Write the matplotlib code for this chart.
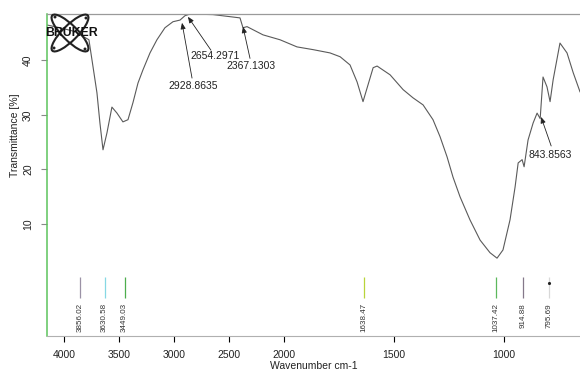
import numpy as np
import matplotlib
matplotlib.use('Agg')
import matplotlib.pyplot as plt
from matplotlib.patches import Ellipse
from matplotlib.transforms import IdentityTransform

plt.rcParams['font.family'] = ['Liberation Sans', 'DejaVu Sans']

# ---------------- data ----------------
wavenumber = [4154, 4036, 3900, 3773, 3736, 3700, 3673, 3645, 3609, 3564,
              3518, 3464, 3418, 3373, 3327, 3282, 3218, 3155, 3082, 3009,
              2945, 2900, 2855, 2645, 2400, 2373, 2336, 2191, 2036, 1941,
              1868, 1791, 1745, 1700, 1668, 1641, 1618, 1595, 1577, 1518,
              1459, 1414, 1368, 1323, 1291, 1259, 1232, 1200, 1155, 1109,
              1064, 1032, 1005, 973, 950, 936, 918, 909, 891, 868,
              850, 836, 823, 805, 791, 777, 746, 714, 686, 655]
transmittance = [46.4, 45.9, 45.2, 43.7, 38.8, 34.0, 28.5, 23.6, 26.7, 31.4,
                 30.3, 28.7, 29.1, 32.2, 35.8, 38.2, 41.3, 43.7, 45.9, 47.0,
                 47.3, 48.1, 48.4, 48.3, 47.7, 45.9, 46.1, 44.6, 43.7, 42.4,
                 41.9, 41.3, 40.6, 39.1, 36.0, 32.4, 35.5, 38.6, 38.9, 37.3,
                 34.6, 33.1, 31.8, 29.1, 26.0, 22.3, 18.6, 15.0, 10.8, 7.1,
                 4.8, 3.8, 5.3, 10.8, 16.8, 21.2, 21.8, 20.5, 25.4, 28.5,
                 30.3, 29.3, 36.9, 35.1, 32.4, 36.4, 43.1, 41.3, 37.7, 34.2]

peak_positions = [3856.02, 3630.58, 3449.03, 1638.47, 1037.42, 914.88, 795.69]
peak_labels = ['3856.02', '3630.58', '3449.03', '1638.47', '1037.42', '914.88', '795.69']

annot_labels = ['2928.8635', '2654.2971', '2367.1303', '843.8563']
annot_tip_w = [2927, 2873, 2373, 832]
annot_tip_t = [46.8, 47.9, 46.1, 29.6]

x_ticks = [4000, 3500, 3000, 2500, 2000, 1500, 1000]
y_ticks = [10, 20, 30, 40]

# ---------------- styles / layout ----------------
peak_colors = ['#9b92a6', '#86d8e4', '#4dae4d', '#b8d43a', '#5cb85c', '#85788a', '#d8d8d8']
xtick_colors = ['#b8d43a', '#6cc36c', '#b8d43a', '#6cc36c', '#aaaaaa', '#aaaaaa', '#aaaaaa']
annot_line_w = [2836, 2664, 2309, 786]
annot_line_t = [36.7, 41.8, 40.3, 24.3]
annot_text_w = [2827, 2627, 2300, 791]
annot_text_t = [35.3, 40.8, 38.9, 22.7]


def fwd(w):
    w = np.asarray(w, float)
    return np.where(w <= 2000, w, 2000 + (w - 2000) / 2.0)


def inv(u):
    u = np.asarray(u, float)
    return np.where(u <= 2000, u, 2000 + (u - 2000) * 2.0)


W, H = 580, 377
fig = plt.figure(figsize=(W / 100, H / 100), dpi=100)
fig.patch.set_facecolor('white')
ax = fig.add_axes([47 / W, 1 - 336 / H, 533 / W, 322 / H])
ax.set_xscale('function', functions=(fwd, inv))
ax.set_xlim(4154, 655)
ax.set_ylim(-10.42, 48.41)

ax.plot(wavenumber, transmittance, color='#5a5a5a', lw=0.8, solid_joinstyle='round')

# spines
ax.spines['right'].set_visible(False)
ax.spines['top'].set_color('#9a9a9a')
ax.spines['top'].set_linewidth(0.9)
ax.spines['bottom'].set_color('#b0b0b0')
ax.spines['bottom'].set_linewidth(0.8)
ax.spines['left'].set_color('#5cc45c')
ax.spines['left'].set_linewidth(1.1)

# ticks
ax.set_xticks(x_ticks)
ax.set_xticklabels([str(t) for t in x_ticks])
ax.set_yticks(y_ticks)
ax.set_yticklabels([str(t) for t in y_ticks])
ax.tick_params(axis='x', length=4, width=0.8, pad=6, labelsize=7.5, labelcolor='#222222')
ax.tick_params(axis='y', length=4, width=0.8, color='#888888', pad=6, labelsize=7.5,
               labelcolor='#222222', labelrotation=90)
for t, c in zip(ax.xaxis.get_major_ticks(), xtick_colors):
    t.tick1line.set_color(c)
for lbl in ax.get_yticklabels():
    lbl.set_va('center')

# axis titles
fig.text(15 / W, 1 - 135 / H, 'Transmittance [%]', rotation=90, ha='center', va='center',
         fontsize=7.5, color='#222222')
fig.text(314 / W, 1 - 366 / H, 'Wavenumber cm-1', ha='center', va='center',
         fontsize=7.5, color='#222222')

# peak table at the bottom
ax.vlines(peak_positions, -3.5, 0.3, colors=peak_colors, lw=0.9)
for w, lab in zip(peak_positions, peak_labels):
    ax.text(w, -4.4, lab, rotation=90, ha='center', va='top', fontsize=5.8, color='#333333')
ax.plot([peak_positions[-1]], [-0.8], marker='.', ms=2.5, color='#222222')

# peak annotations with arrows
for lab, tw, tt, lw_, lt, xw, xt in zip(annot_labels, annot_tip_w, annot_tip_t,
                                        annot_line_w, annot_line_t,
                                        annot_text_w, annot_text_t):
    ax.annotate('', xy=(tw, tt), xytext=(lw_, lt),
                arrowprops=dict(arrowstyle='-|>,head_length=0.6,head_width=0.25',
                                color='#222222', lw=0.6, shrinkA=0, shrinkB=0,
                                mutation_scale=6))
    ax.text(xw, xt, lab, ha='center', va='center', fontsize=7.5, color='#222222')

# Bruker logo
cx, cy = 70, H - 33
for ang in (45, -45):
    fig.add_artist(Ellipse((cx, cy), width=50, height=15, angle=ang, fill=False,
                           ec='#222222', lw=1.5, transform=IdentityTransform()))
for dx, dy in ((-15, 16), (16, 15), (-16, -15), (15, -16)):
    fig.add_artist(Ellipse((cx + dx, cy + dy), width=3, height=3, fc='#222222', ec='none',
                           transform=IdentityTransform()))
fig.text(71 / W, 1 - 33 / H, 'BRUKER', ha='center', va='center', fontsize=8.8,
         weight='bold', color='#111111')

fig.savefig('out.png', dpi=100, facecolor='white')
